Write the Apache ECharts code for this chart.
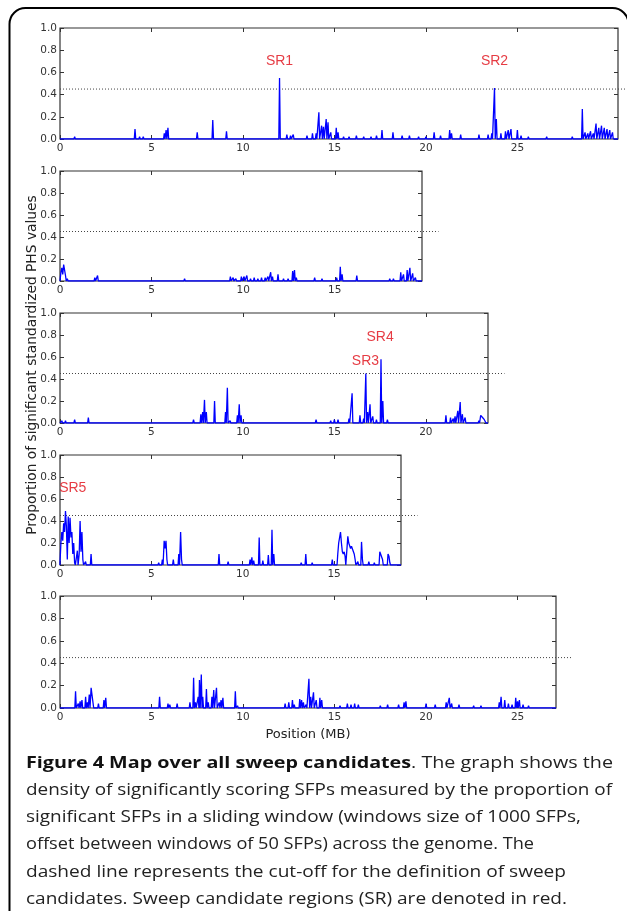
<!DOCTYPE html>
<html>
<head>
<meta charset="utf-8">
<script src="https://cdn.jsdelivr.net/npm/echarts@6/dist/echarts.min.js"></script>
<style>
html,body{margin:0;padding:0;background:#fff;}
#chart{width:627px;height:911px;}
</style>
</head>
<body>
<div id="chart"></div>
<script>
// ---- data (position in MB, proportion) ----
var panelMax = [30.5, 19.76, 23.4, 18.66, 27.1];
var xTicks = [
  [0, 5, 10, 15, 20, 25],
  [0, 5, 10, 15],
  [0, 5, 10, 15, 20],
  [0, 5, 10, 15],
  [0, 5, 10, 15, 20, 25]
];
var yTicks = [0, 0.2, 0.4, 0.6, 0.8, 1.0];
var cutoff = 0.45;

var p1 = [[0.1,0.01],[0.3,0.01],[0.8,0.02],[2.5,0.015],[4.1,0.09],[4.35,0.02],[4.55,0.02],[5.7,0.05],[5.8,0.08],[5.9,0.1],[7.5,0.06],[8.35,0.17],[9.1,0.07],[12.0,0.55],[12.4,0.04],[12.6,0.03],[12.75,0.04],[13.5,0.03],[13.8,0.05],[14.0,0.05],[14.15,0.24],[14.3,0.12],[14.4,0.11],[14.55,0.18],[14.65,0.15],[14.8,0.06],[15.1,0.1],[15.2,0.06],[15.5,0.02],[15.8,0.02],[16.2,0.03],[16.6,0.02],[17.0,0.02],[17.3,0.03],[17.6,0.08],[18.2,0.06],[18.7,0.03],[19.1,0.03],[19.6,0.02],[20.0,0.02],[20.45,0.06],[20.8,0.03],[21.3,0.08],[21.4,0.05],[21.9,0.04],[22.9,0.04],[23.4,0.04],[23.6,0.05],[23.75,0.46],[23.85,0.18],[24.1,0.05],[24.35,0.07],[24.5,0.08],[24.65,0.09],[25.0,0.08],[25.2,0.03],[25.6,0.02],[26.1,0.01],[26.6,0.02],[27.3,0.01],[28.0,0.02],[28.55,0.27],[28.7,0.06],[28.85,0.05],[29.0,0.07],[29.15,0.05],[29.3,0.14],[29.45,0.1],[29.6,0.12],[29.75,0.1],[29.9,0.09],[30.05,0.08],[30.2,0.06]];

var p2 = [[0.05,0.08],[0.1,0.12],[0.15,0.06],[0.2,0.15],[0.25,0.1],[0.3,0.05],[0.4,0.02],[0.6,0.01],[1.9,0.03],[2.05,0.05],[5.5,0.01],[6.8,0.02],[9.3,0.04],[9.45,0.03],[9.6,0.02],[9.9,0.04],[10.05,0.04],[10.2,0.05],[10.4,0.02],[10.6,0.03],[10.8,0.02],[11.0,0.03],[11.2,0.03],[11.35,0.04],[11.5,0.08],[11.6,0.04],[11.9,0.06],[12.2,0.02],[12.45,0.02],[12.7,0.09],[12.8,0.1],[12.9,0.03],[13.9,0.03],[14.3,0.02],[15.1,0.03],[15.3,0.13],[15.4,0.06],[15.7,0.01],[16.2,0.05],[16.8,0.01],[17.4,0.01],[18.0,0.02],[18.2,0.02],[18.6,0.08],[18.75,0.06],[18.95,0.1],[19.1,0.12],[19.25,0.07],[19.4,0.03],[19.6,0.01]];

var p3 = [[0.1,0.02],[0.3,0.02],[0.8,0.03],[1.55,0.05],[1.8,0.01],[2.4,0.01],[7.3,0.03],[7.7,0.08],[7.8,0.1],[7.9,0.21],[8.0,0.1],[8.45,0.2],[9.05,0.1],[9.15,0.32],[9.3,0.02],[9.7,0.07],[9.8,0.17],[9.9,0.07],[13.6,0.01],[14.0,0.03],[14.8,0.02],[15.0,0.03],[15.2,0.03],[15.8,0.04],[15.97,0.27],[16.4,0.07],[16.6,0.04],[16.72,0.45],[16.82,0.1],[16.95,0.17],[17.1,0.06],[17.3,0.03],[17.55,0.58],[17.65,0.2],[17.9,0.03],[18.3,0.01],[19.5,0.01],[21.1,0.07],[21.35,0.05],[21.5,0.04],[21.6,0.06],[21.75,0.11],[21.88,0.19],[22.0,0.08],[22.15,0.05],[22.9,0.02],[23.0,0.07],[23.05,0.06],[23.1,0.05],[23.15,0.04],[23.2,0.03],[23.25,0.02]];

var p4 = [[0.0,0.02],[0.05,0.2],[0.1,0.3],[0.15,0.22],[0.2,0.38],[0.25,0.3],[0.3,0.49],[0.35,0.35],[0.4,0.05],[0.45,0.44],[0.5,0.2],[0.55,0.43],[0.6,0.25],[0.65,0.3],[0.7,0.1],[0.75,0.2],[0.8,0.02],[0.95,0.13],[1.05,0.1],[1.1,0.4],[1.15,0.12],[1.2,0.3],[1.25,0.05],[1.4,0.03],[1.7,0.1],[5.0,0.01],[5.4,0.02],[5.6,0.05],[5.7,0.22],[5.75,0.15],[5.8,0.22],[5.85,0.05],[6.2,0.05],[6.5,0.1],[6.6,0.3],[6.65,0.05],[7.6,0.01],[8.7,0.1],[9.2,0.03],[9.7,0.01],[10.4,0.05],[10.5,0.07],[10.6,0.04],[10.9,0.25],[11.1,0.04],[11.4,0.09],[11.6,0.32],[11.7,0.1],[12.3,0.01],[13.2,0.02],[13.45,0.1],[13.8,0.02],[14.3,0.01],[14.9,0.05],[15.2,0.1],[15.25,0.2],[15.3,0.25],[15.35,0.3],[15.4,0.2],[15.45,0.12],[15.5,0.1],[15.55,0.12],[15.6,0.08],[15.75,0.26],[15.8,0.2],[15.85,0.2],[15.9,0.15],[15.95,0.17],[16.0,0.18],[16.05,0.16],[16.1,0.1],[16.15,0.05],[16.3,0.03],[16.5,0.21],[16.55,0.05],[16.9,0.03],[17.2,0.02],[17.5,0.12],[17.55,0.12],[17.6,0.12],[17.65,0.05],[17.95,0.1],[18.0,0.08],[18.05,0.02]];

var p5 = [[0.85,0.15],[1.0,0.04],[1.1,0.06],[1.2,0.07],[1.4,0.1],[1.5,0.05],[1.6,0.12],[1.7,0.18],[1.75,0.17],[1.8,0.17],[2.1,0.04],[2.4,0.07],[2.5,0.09],[3.6,0.01],[5.44,0.1],[5.9,0.04],[6.0,0.03],[6.4,0.04],[7.1,0.05],[7.3,0.27],[7.4,0.05],[7.55,0.1],[7.62,0.25],[7.72,0.3],[7.8,0.1],[8.0,0.17],[8.1,0.05],[8.3,0.1],[8.4,0.16],[8.55,0.18],[8.7,0.05],[8.8,0.07],[8.9,0.09],[9.58,0.15],[9.7,0.02],[12.3,0.04],[12.5,0.05],[12.7,0.07],[12.8,0.03],[13.1,0.08],[13.2,0.07],[13.3,0.05],[13.45,0.03],[13.6,0.26],[13.7,0.1],[13.85,0.14],[14.0,0.07],[14.2,0.09],[14.3,0.07],[14.6,0.01],[15.0,0.01],[15.3,0.02],[15.7,0.04],[15.9,0.03],[16.1,0.04],[16.3,0.03],[17.0,0.01],[17.5,0.02],[17.9,0.03],[18.5,0.03],[18.8,0.05],[18.9,0.06],[19.5,0.01],[20.0,0.04],[20.5,0.03],[21.1,0.05],[21.27,0.09],[21.4,0.04],[21.8,0.03],[22.6,0.02],[23.0,0.02],[24.0,0.05],[24.1,0.1],[24.3,0.07],[24.5,0.04],[24.7,0.03],[24.9,0.09],[25.0,0.06],[25.1,0.07],[25.3,0.03],[25.6,0.02],[26.0,0.01],[26.6,0.01]];

var panels = [p1, p2, p3, p4, p5];

// sweep candidate labels: panel index, position, height
var srNames = ['SR1', 'SR2', 'SR3', 'SR4', 'SR5'];
var srPanel = [0, 0, 2, 2, 3];
var srX = [12.0, 23.75, 16.7, 17.5, 0.7];
var srY = [0.70, 0.70, 0.56, 0.78, 0.70];

var captionBold = 'Figure 4 Map over all sweep candidates';
var captionLines = [
  '. The graph shows the',
  'density of significantly scoring SFPs measured by the proportion of',
  'significant SFPs in a sliding window (windows size of 1000 SFPs,',
  'offset between windows of 50 SFPs) across the genome. The',
  'dashed line represents the cut-off for the definition of sweep',
  'candidates. Sweep candidate regions (SR) are denoted in red.'
];
var yTitle = 'Proportion of significant standardized PHS values';
var xTitle = 'Position (MB)';

// ---- layout ----
var gridTop = [28, 171, 313, 455, 596];
var gridH = [111, 110, 110, 110, 112];
var gridLeft = 60;
var pxPerMB = 18.3;
var capLeft = 26;
var capEnds = [613, 612, 581, 534, 566, 567];
var capTop = 763, capStep = 27.3, capSize = 16, capFont = 'Open Sans';

function spikes(pts, xmax) {
  var out = [[0, 0]];
  var hw = 0.04, join = 0.06;
  for (var i = 0; i < pts.length; i++) {
    var x = pts[i][0], y = pts[i][1];
    if (i === 0 || x - pts[i - 1][0] > join) out.push([Math.max(0, x - hw), 0]);
    out.push([x, y]);
    if (i === pts.length - 1 || pts[i + 1][0] - x > join) out.push([x + hw, 0]);
  }
  out.push([xmax, 0]);
  return out;
}

var font = 'DejaVu Sans';
var axisColor = '#333';
var grids = [], xAxes = [], yAxes = [], series = [];

for (var i = 0; i < 5; i++) {
  var w = Math.round(panelMax[i] * pxPerMB);
  grids.push({left: gridLeft, top: gridTop[i], width: w, height: gridH[i], containLabel: false,
    show: true, borderColor: axisColor, borderWidth: 1.2, backgroundColor: 'rgba(0,0,0,0)'});
  var lineS = {show: false, onZero: false};
  var xTickS = {show: true, inside: true, length: 4, customValues: xTicks[i], lineStyle: {color: axisColor}};
  var common = {type: 'value', gridIndex: i, min: 0, max: panelMax[i], splitLine: {show: false}};
  var xb = Object.assign({}, common, {
    position: 'bottom', axisLine: lineS, axisTick: xTickS,
    axisLabel: {show: true, margin: 4, fontSize: 10.5, color: '#333', fontFamily: font, customValues: xTicks[i]}
  });
  if (i === 4) {
    xb.name = xTitle; xb.nameLocation = 'middle'; xb.nameGap = 20;
    xb.nameTextStyle = {fontSize: 13, color: '#222', fontFamily: font};
  }
  xAxes.push(xb);
  xAxes.push(Object.assign({}, common, {position: 'top', axisLine: lineS, axisTick: xTickS, axisLabel: {show: false}}));

  var yTickS = {show: true, inside: true, length: 4, customValues: yTicks, lineStyle: {color: axisColor}};
  var ycommon = {type: 'value', gridIndex: i, min: 0, max: 1, splitLine: {show: false}, axisLine: lineS, axisTick: yTickS};
  yAxes.push(Object.assign({}, ycommon, {position: 'left',
    axisLabel: {show: true, margin: 3, fontSize: 10.5, color: '#333', fontFamily: font, customValues: yTicks,
      formatter: function (v) { return Number(v).toFixed(1); }}}));
  yAxes.push(Object.assign({}, ycommon, {position: 'right', axisLabel: {show: false}}));

  series.push({
    type: 'line', xAxisIndex: 2 * i, yAxisIndex: 2 * i,
    data: spikes(panels[i], panelMax[i]),
    showSymbol: false, symbol: 'none',
    lineStyle: {color: '#0000ff', width: 1.3},
    z: 3, silent: true
  });
  var lab = [];
  for (var k = 0; k < srNames.length; k++) {
    if (srPanel[k] === i) lab.push({name: srNames[k], value: [srX[k], srY[k]]});
  }
  if (lab.length) {
    series.push({
      type: 'scatter', xAxisIndex: 2 * i, yAxisIndex: 2 * i,
      data: lab, symbolSize: 1, itemStyle: {color: 'rgba(0,0,0,0)'},
      label: {show: true, position: 'inside', formatter: '{b}', color: '#e00a14',
        fontSize: 14, fontFamily: 'Liberation Sans'},
      z: 4, silent: true
    });
  }
}

// caption width fitting via canvas measurement
var mctx = document.createElement('canvas').getContext('2d');
function measure(txt, bold) {
  mctx.font = (bold ? 'bold ' : '') + capSize + 'px "' + capFont + '"';
  return mctx.measureText(txt).width;
}

var graphics = [
  {type: 'rect', shape: {x: 9.5, y: 8, width: 619, height: 980, r: 16},
   style: {fill: 'none', stroke: '#000', lineWidth: 2}, z: 10},
  {type: 'text', x: 32, y: 365, rotation: Math.PI / 2,
   style: {text: yTitle, fontSize: 13.8, fontFamily: font, fill: '#222', align: 'center', verticalAlign: 'middle'}, z: 10}
];
for (var j = 0; j < captionLines.length; j++) {
  var st, wd;
  if (j === 0) {
    wd = measure(captionBold, true) + measure(captionLines[0], false);
    st = {text: '{b|' + captionBold + '}{r|' + captionLines[0] + '}',
      rich: {b: {fontWeight: 'bold', fontSize: capSize, fontFamily: capFont, fill: '#111'},
             r: {fontSize: capSize, fontFamily: capFont, fill: '#222'}},
      verticalAlign: 'middle', align: 'left'};
  } else {
    wd = measure(captionLines[j], false);
    st = {text: captionLines[j], fontSize: capSize, fontFamily: capFont, fill: '#222',
      verticalAlign: 'middle', align: 'left'};
  }
  var sx = (capEnds[j] - capLeft) / wd;
  graphics.push({type: 'text', x: capLeft, y: capTop + j * capStep, scaleX: sx, style: st, z: 10});
}

var chart = echarts.init(document.getElementById('chart'), null, {renderer: 'canvas'});
chart.setOption({
  animation: false,
  backgroundColor: '#fff',
  grid: grids,
  xAxis: xAxes,
  yAxis: yAxes,
  series: series,
  graphic: graphics
});

// cut-off lines, extending a little past each panel's right edge
for (var g = 0; g < 5; g++) {
  var a = chart.convertToPixel({gridIndex: g}, [0, cutoff]);
  var b = chart.convertToPixel({gridIndex: g}, [panelMax[g], cutoff]);
  var ext = (b[0] - a[0]) * (panelMax[g] + 0.9) / panelMax[g];
  graphics.push({type: 'line', shape: {x1: a[0], y1: a[1], x2: a[0] + ext, y2: a[1]},
    style: {stroke: '#444', lineWidth: 1, lineDash: [1, 2]}, z: 2, silent: true});
}
chart.setOption({graphic: graphics});
</script>
</body>
</html>
